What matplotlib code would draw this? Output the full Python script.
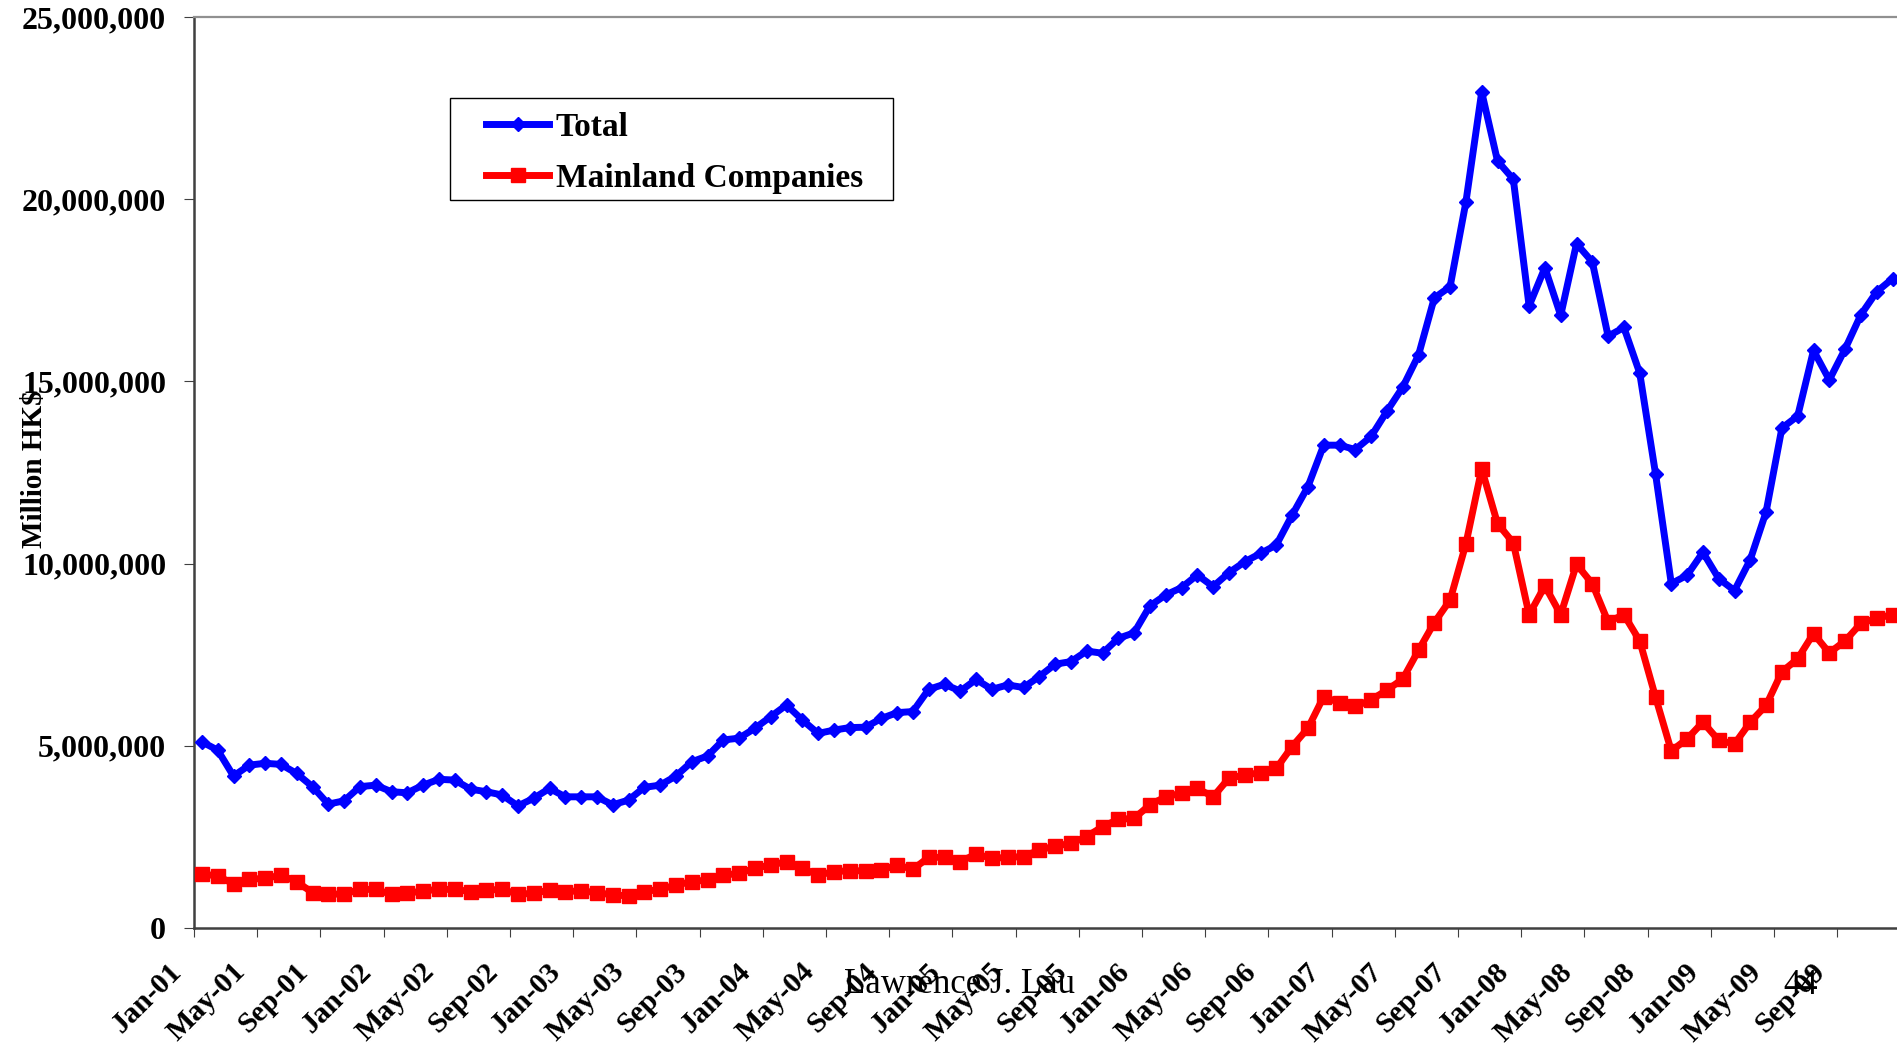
import matplotlib
matplotlib.use("Agg")
import matplotlib.pyplot as plt
from matplotlib.lines import Line2D
from matplotlib.patches import Rectangle
from matplotlib.ticker import FuncFormatter
from matplotlib.transforms import ScaledTranslation

W, H = 1897, 1046

# Market capitalisation, trillion HK$ (= million x 1e6), Jan-01 .. Dec-09
total = [
    5.11, 4.88, 4.17, 4.47, 4.52, 4.49, 4.24, 3.88, 3.40, 3.49,
    3.88, 3.92, 3.74, 3.71, 3.92, 4.08, 4.06, 3.81, 3.74, 3.65,
    3.35, 3.56, 3.83, 3.60, 3.60, 3.60, 3.38, 3.51, 3.86, 3.92,
    4.17, 4.56, 4.72, 5.16, 5.21, 5.48, 5.80, 6.12, 5.71, 5.34,
    5.43, 5.50, 5.51, 5.75, 5.91, 5.94, 6.55, 6.69, 6.50, 6.82,
    6.55, 6.67, 6.60, 6.90, 7.24, 7.31, 7.60, 7.54, 7.95, 8.10,
    8.84, 9.14, 9.34, 9.69, 9.37, 9.75, 10.05, 10.28, 10.51, 11.33,
    12.11, 13.25, 13.25, 13.13, 13.49, 14.18, 14.84, 15.72, 17.29, 17.60,
    19.92, 22.94, 21.05, 20.55, 17.07, 18.12, 16.81, 18.78, 18.28, 16.24,
    16.48, 15.23, 12.47, 9.45, 9.68, 10.31, 9.59, 9.26, 10.11, 11.42,
    13.72, 14.05, 15.85, 15.04, 15.89, 16.83, 17.46, 17.82,
]
mainland = [
    1.48, 1.43, 1.21, 1.34, 1.36, 1.45, 1.27, 0.97, 0.93, 0.93,
    1.06, 1.06, 0.92, 0.95, 1.02, 1.06, 1.06, 1.00, 1.04, 1.06,
    0.93, 0.95, 1.04, 1.00, 1.02, 0.97, 0.91, 0.88, 1.00, 1.06,
    1.18, 1.27, 1.32, 1.45, 1.50, 1.64, 1.73, 1.82, 1.64, 1.45,
    1.55, 1.57, 1.57, 1.59, 1.73, 1.61, 1.94, 1.94, 1.82, 2.03,
    1.91, 1.94, 1.96, 2.14, 2.25, 2.32, 2.51, 2.78, 2.98, 3.01,
    3.38, 3.60, 3.70, 3.83, 3.60, 4.11, 4.20, 4.26, 4.38, 4.98,
    5.48, 6.35, 6.18, 6.08, 6.26, 6.53, 6.83, 7.62, 8.38, 9.00,
    10.54, 12.60, 11.10, 10.57, 8.60, 9.39, 8.60, 9.98, 9.45, 8.40,
    8.60, 7.88, 6.34, 4.86, 5.19, 5.65, 5.15, 5.05, 5.65, 6.11,
    7.03, 7.39, 8.08, 7.55, 7.88, 8.36, 8.50, 8.60,
]
tick_labels = [
    "Jan-01", "May-01", "Sep-01", "Jan-02", "May-02", "Sep-02",
    "Jan-03", "May-03", "Sep-03", "Jan-04", "May-04", "Sep-04",
    "Jan-05", "May-05", "Sep-05", "Jan-06", "May-06", "Sep-06",
    "Jan-07", "May-07", "Sep-07", "Jan-08", "May-08", "Sep-08",
    "Jan-09", "May-09", "Sep-09",
]

plt.rcParams["font.family"] = ["Liberation Serif", "DejaVu Serif"]

fig = plt.figure(figsize=(W / 100, H / 100), dpi=100)
px = 15.8  # pixels per month
ax = fig.add_axes([194 / W, 1 - 928 / H, 108 * px / W, 911 / H])

# Excel category axis: points sit in the middle of each month
xs = [i + 0.5 for i in range(len(total))]
ax.plot(xs, [v * 1e6 for v in total], color="#0000ff", lw=5,
        marker="D", ms=7, zorder=3)
ax.plot(xs, [v * 1e6 for v in mainland], color="#ff0000", lw=5,
        marker="s", ms=9.5, zorder=3)

ax.set_xlim(0, 108)
ax.set_ylim(0, 25e6)
ax.set_yticks(range(0, 25_000_001, 5_000_000))
ax.yaxis.set_major_formatter(FuncFormatter(lambda v, _: f"{int(v):,}"))
ax.set_xticks(list(range(0, 109, 4)), labels=tick_labels + [""])

for side in ("left", "bottom"):
    ax.spines[side].set_color("#404040")
    ax.spines[side].set_linewidth(1.8)
ax.spines["top"].set_color("#909090")
ax.spines["top"].set_linewidth(1.6)
ax.spines["right"].set_visible(False)

ax.tick_params(axis="y", direction="out", length=7, width=0.8,
               color="#404040", pad=13, labelsize=23)
ax.tick_params(axis="x", direction="out", length=6.5, width=0.8,
               color="#404040", pad=29.5, labelsize=21.5)
for lbl in ax.get_yticklabels():
    lbl.set_fontweight("bold")
shift = ScaledTranslation(-11 / 100, 5 / 100, fig.dpi_scale_trans)
for lbl in ax.get_xticklabels():
    lbl.set_fontweight("bold")
    lbl.set_rotation(45)
    lbl.set_ha("right")
    lbl.set_va("baseline")
    lbl.set_rotation_mode("anchor")
    lbl.set_transform(lbl.get_transform() + shift)

# legend with hand-placed frame
fig.patches.append(Rectangle((450 / W, 1 - 200 / H), 443 / W, 102 / H,
                             transform=fig.transFigure, fill=False,
                             edgecolor="black", lw=1.0))
handles = [
    Line2D([], [], color="#0000ff", lw=5, marker="D", ms=7),
    Line2D([], [], color="#ff0000", lw=5, marker="s", ms=9.5),
]
fig.legend(handles, ["Total", "Mainland Companies"], loc="center left",
           bbox_to_anchor=(486 / W, 1 - 153 / H), frameon=False,
           borderpad=0, borderaxespad=0, handlelength=1.9,
           handletextpad=0.2, labelspacing=0.6,
           prop={"weight": "bold", "size": 24})

fig.text(35 / W, 1 - 469 / H, "Million HK$", rotation=90, ha="center",
         va="center", fontsize=21, fontweight="bold")
fig.text(959 / W, 1 - 993 / H, "Lawrence J. Lau", ha="center",
         va="baseline", fontsize=25)
fig.text(1801 / W, 1 - 994 / H, "44", ha="center", va="baseline",
         fontsize=25)

fig.savefig("out.png", dpi=100)
